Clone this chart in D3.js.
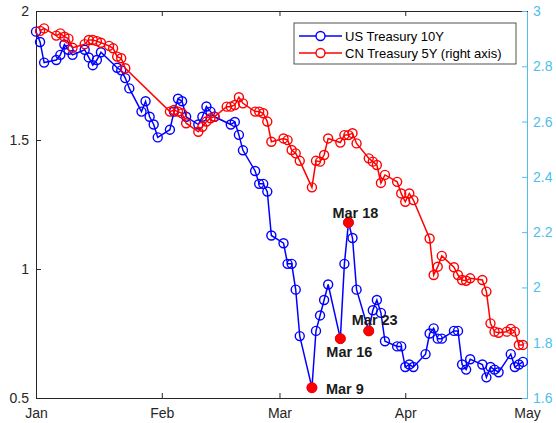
<!DOCTYPE html>
<html>
<head>
<meta charset="utf-8">
<script src="https://cdn.jsdelivr.net/npm/d3@7"></script>
<style>
body { margin: 0; background: #fff; }
text { font-family: "Liberation Sans", Arial, Helvetica, sans-serif; }
</style>
</head>
<body>
<script>
// US Treasury 10Y (left axis), 2020
const usDates = ["01-01","01-02","01-03","01-06","01-07","01-08","01-09","01-10","01-13","01-14","01-15","01-16","01-17","01-21","01-22","01-23","01-24","01-27","01-28","01-29","01-30","01-31",
  "02-03","02-04","02-05","02-06","02-07","02-10","02-11","02-12","02-13","02-14","02-18","02-19","02-20","02-21","02-24","02-25","02-26","02-27","02-28",
  "03-02","03-03","03-04","03-05","03-06","03-09","03-10","03-11","03-12","03-13","03-16","03-17","03-18","03-19","03-20","03-23","03-24","03-25","03-26","03-27","03-30","03-31",
  "04-01","04-02","04-03","04-06","04-07","04-08","04-09","04-10","04-13","04-14","04-15","04-16","04-17","04-20","04-21","04-22","04-23","04-24","04-27","04-28","04-29","04-30"];
const usValues = [1.92,1.88,1.80,1.81,1.83,1.87,1.85,1.83,1.85,1.82,1.79,1.81,1.84,1.78,1.77,1.74,1.70,1.61,1.65,1.59,1.56,1.51,
  1.54,1.61,1.66,1.65,1.59,1.56,1.59,1.63,1.61,1.59,1.56,1.57,1.52,1.46,1.38,1.33,1.33,1.30,1.13,
  1.10,1.02,1.02,0.92,0.74,0.54,0.76,0.82,0.88,0.94,0.73,1.02,1.18,1.12,0.92,0.76,0.84,0.88,0.83,0.72,0.70,0.70,
  0.62,0.63,0.62,0.67,0.75,0.77,0.73,0.73,0.76,0.76,0.63,0.61,0.65,0.63,0.58,0.62,0.61,0.60,0.67,0.62,0.63,0.64];

// CN Treasury 5Y (right axis), 2020
const cnDates = ["01-02","01-03","01-06","01-07","01-08","01-09","01-10","01-13","01-14","01-15","01-16","01-17","01-19","01-20","01-21","01-22","01-23",
  "02-03","02-04","02-05","02-06","02-07","02-10","02-11","02-12","02-13","02-14","02-17","02-18","02-19","02-20","02-21","02-24","02-25","02-26","02-27","02-28",
  "03-02","03-03","03-04","03-05","03-06","03-09","03-10","03-11","03-12","03-13","03-16","03-17","03-18","03-19","03-20","03-23","03-24","03-25","03-26","03-27","03-30","03-31",
  "04-01","04-02","04-03","04-07","04-08","04-09","04-10","04-13","04-14","04-15","04-16","04-17","04-20","04-21","04-22","04-23","04-24","04-26","04-27","04-28","04-29","04-30"];
const cnValues = [2.928,2.937,2.911,2.919,2.907,2.900,2.867,2.880,2.895,2.895,2.891,2.885,2.874,2.865,2.835,2.829,2.793,
  2.636,2.642,2.636,2.630,2.594,2.563,2.581,2.600,2.612,2.618,2.654,2.654,2.660,2.688,2.666,2.636,2.636,2.630,2.600,2.527,
  2.539,2.533,2.497,2.485,2.458,2.362,2.458,2.455,2.479,2.539,2.524,2.551,2.551,2.558,2.521,2.467,2.455,2.443,2.378,2.407,2.382,2.340,
  2.310,2.340,2.316,2.177,2.045,2.075,2.114,2.073,2.045,2.027,2.024,2.033,2.027,1.985,1.870,1.840,1.836,1.840,1.850,1.840,1.792,1.792];

const markDates = ["03-09","03-16","03-18","03-23"];
const markLabels = ["Mar 9","Mar 16","Mar 18","Mar 23"];
const monthTicks = ["01-01","02-01","03-01","04-01","05-01"];
const leftTicks = [0.5, 1, 1.5, 2];
const rightTicks = [1.6, 1.8, 2, 2.2, 2.4, 2.6, 2.8, 3];
const seriesNames = ["US Treasury 10Y", "CN Treasury 5Y (right axis)"];

const parse = s => d3.timeParse("%Y-%m-%d")("2020-" + s);
const W = 556, H = 423;
const m = { left: 36, right: 527, top: 11, bottom: 398 };
const axisColor = "#262626", rightColor = "#4DBEEE";

const svg = d3.select("body").append("svg").attr("width", W).attr("height", H);

const x = d3.scaleTime().domain([parse("01-01"), parse("05-01")]).range([m.left, m.right]);
const yL = d3.scaleLinear().domain([0.5, 2]).range([m.bottom, m.top]);
const yR = d3.scaleLinear().domain([1.6, 3]).range([m.bottom, m.top]);

const us = usDates.map((d, i) => ({ date: parse(d), v: usValues[i] }));
const cn = cnDates.map((d, i) => ({ date: parse(d), v: cnValues[i] }));

// axes
const xb = svg.append("g").attr("transform", `translate(0,${m.bottom})`)
  .call(d3.axisBottom(x).tickValues(monthTicks.map(parse)).tickFormat(d3.timeFormat("%b"))
    .tickSizeInner(-5).tickSizeOuter(0).tickPadding(10));
const xt = svg.append("g").attr("transform", `translate(0,${m.top})`)
  .call(d3.axisTop(x).tickValues(monthTicks.map(parse)).tickFormat("")
    .tickSizeInner(-5).tickSizeOuter(0));
const yl = svg.append("g").attr("transform", `translate(${m.left},0)`)
  .call(d3.axisLeft(yL).tickValues(leftTicks).tickFormat(d => String(d))
    .tickSizeInner(-5).tickSizeOuter(0).tickPadding(7));
const yr = svg.append("g").attr("transform", `translate(${m.right},0)`)
  .call(d3.axisRight(yR).tickValues(rightTicks).tickFormat(d => String(d))
    .tickSizeInner(-5).tickSizeOuter(0).tickPadding(6));

[xb, xt, yl].forEach(g => {
  g.selectAll("path, line").attr("stroke", axisColor);
  g.selectAll("text").attr("fill", axisColor).style("font-size", "14px");
});
yr.selectAll("path, line").attr("stroke", rightColor);
yr.selectAll("text").attr("fill", rightColor).style("font-size", "14px");
svg.selectAll(".domain").attr("shape-rendering", "crispEdges");

// series
function drawSeries(data, y, color) {
  const line = d3.line().x(d => x(d.date)).y(d => y(d.v));
  svg.append("path").datum(data).attr("d", line)
    .attr("fill", "none").attr("stroke", color).attr("stroke-width", 1.5);
  svg.append("g").selectAll("circle").data(data).enter().append("circle")
    .attr("cx", d => x(d.date)).attr("cy", d => y(d.v)).attr("r", 4.5)
    .attr("fill", "none").attr("stroke", color).attr("stroke-width", 1.4);
}
drawSeries(us, yL, "#0000FF");
drawSeries(cn, yR, "#FF0000");

// highlighted days
const labelOffset = { "Mar 9": [14, 6], "Mar 16": [-14, 18], "Mar 18": [-16, -5], "Mar 23": [-17, -6] };
const marks = markDates.map((d, i) => {
  const dt = parse(d);
  const p = us.find(u => +u.date === +dt);
  return { date: dt, v: p.v, label: markLabels[i] };
});
svg.append("g").selectAll("circle").data(marks).enter().append("circle")
  .attr("cx", d => x(d.date)).attr("cy", d => yL(d.v)).attr("r", 5)
  .attr("fill", "#FF0000").attr("stroke", "#FF0000");
svg.append("g").selectAll("text").data(marks).enter().append("text")
  .attr("x", d => x(d.date) + labelOffset[d.label][0])
  .attr("y", d => yL(d.v) + labelOffset[d.label][1])
  .attr("fill", "#1a1a1a").style("font-size", "14.5px").style("font-weight", "bold")
  .text(d => d.label);

// legend
const lg = svg.append("g");
lg.append("rect").attr("x", 294).attr("y", 23).attr("width", 222).attr("height", 41)
  .attr("fill", "#fff").attr("stroke", axisColor).attr("stroke-width", 0.8);
["#0000FF", "#FF0000"].forEach((c, i) => {
  const yy = 36 + i * 17;
  lg.append("line").attr("x1", 299).attr("x2", 342).attr("y1", yy).attr("y2", yy)
    .attr("stroke", c).attr("stroke-width", 1.5);
  lg.append("circle").attr("cx", 320.5).attr("cy", yy).attr("r", 4.5)
    .attr("fill", "#fff").attr("stroke", c).attr("stroke-width", 1.4);
  lg.append("text").attr("x", 345).attr("y", yy + 4.5).attr("fill", "#000")
    .style("font-size", "13px").text(seriesNames[i]);
});
</script>
</body>
</html>
